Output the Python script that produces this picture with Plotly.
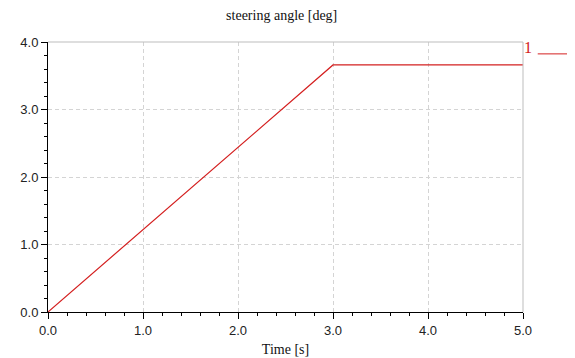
import plotly.graph_objects as go

# Data
time_s = [0.0, 3.0, 5.0]
steering_deg = [0.0, 3.66, 3.66]
series_name = "1"
x_ticks = [0.0, 1.0, 2.0, 3.0, 4.0, 5.0]
y_ticks = [0.0, 1.0, 2.0, 3.0, 4.0]

RED = "#d42020"
TICKFONT = dict(family="Liberation Sans, Arial, sans-serif", size=13, color="#222")
SERIF_FAM = "Liberation Serif, Times New Roman, serif"

fig = go.Figure()
fig.add_trace(go.Scatter(x=time_s, y=steering_deg, mode="lines", name=series_name,
                         line=dict(color=RED, width=1.2), showlegend=False))

fig.update_layout(
    width=575, height=358,
    margin=dict(l=38, r=60, t=34, b=54),
    paper_bgcolor="white", plot_bgcolor="white",
    title=dict(text="steering angle [deg]", x=0.476, xanchor="center", y=0.98, yanchor="middle",
               font=dict(family=SERIF_FAM, size=14, color="#111")),
)
grid = dict(showgrid=True, gridcolor="#d4d4d4", griddash="4px,3px", gridwidth=1)
fig.update_xaxes(
    range=[0, 5], tickvals=x_ticks, ticktext=[f"{v:.1f}" for v in x_ticks],
    showline=True, linecolor="black", linewidth=1,
    ticks="outside", ticklen=6, tickcolor="black",
    minor=dict(dtick=0.2, ticks="outside", ticklen=3, tickcolor="black", showgrid=False),
    zeroline=False, tickfont=TICKFONT,
    title=dict(text="Time [s]", font=dict(family=SERIF_FAM, size=14, color="#111"), standoff=7),
    **grid,
)
fig.update_yaxes(
    range=[0, 4], tickvals=y_ticks, ticktext=[f"{v:.1f}" for v in y_ticks],
    showline=True, linecolor="black", linewidth=1,
    ticks="outside", ticklen=6, tickcolor="black",
    minor=dict(dtick=0.2, ticks="outside", ticklen=3, tickcolor="black", showgrid=False),
    zeroline=False, tickfont=TICKFONT,
    **grid,
)
# top and right frame
fig.add_shape(type="line", xref="paper", yref="paper", x0=0, x1=1, y0=1, y1=1,
              line=dict(color="#bdbdbd", width=1))
fig.add_shape(type="line", xref="paper", yref="paper", x0=1, x1=1, y0=0, y1=1,
              line=dict(color="#bdbdbd", width=1))
# legend-like label
fig.add_annotation(text=series_name, xref="paper", yref="paper", x=1.0105, y=0.981,
                   xanchor="center", yanchor="middle", showarrow=False,
                   font=dict(family=SERIF_FAM, size=16, color=RED))
fig.add_shape(type="line", xref="paper", yref="paper", x0=1.031, x1=1.103, y0=0.956, y1=0.956,
              line=dict(color=RED, width=1))

fig.write_html("out.html")
